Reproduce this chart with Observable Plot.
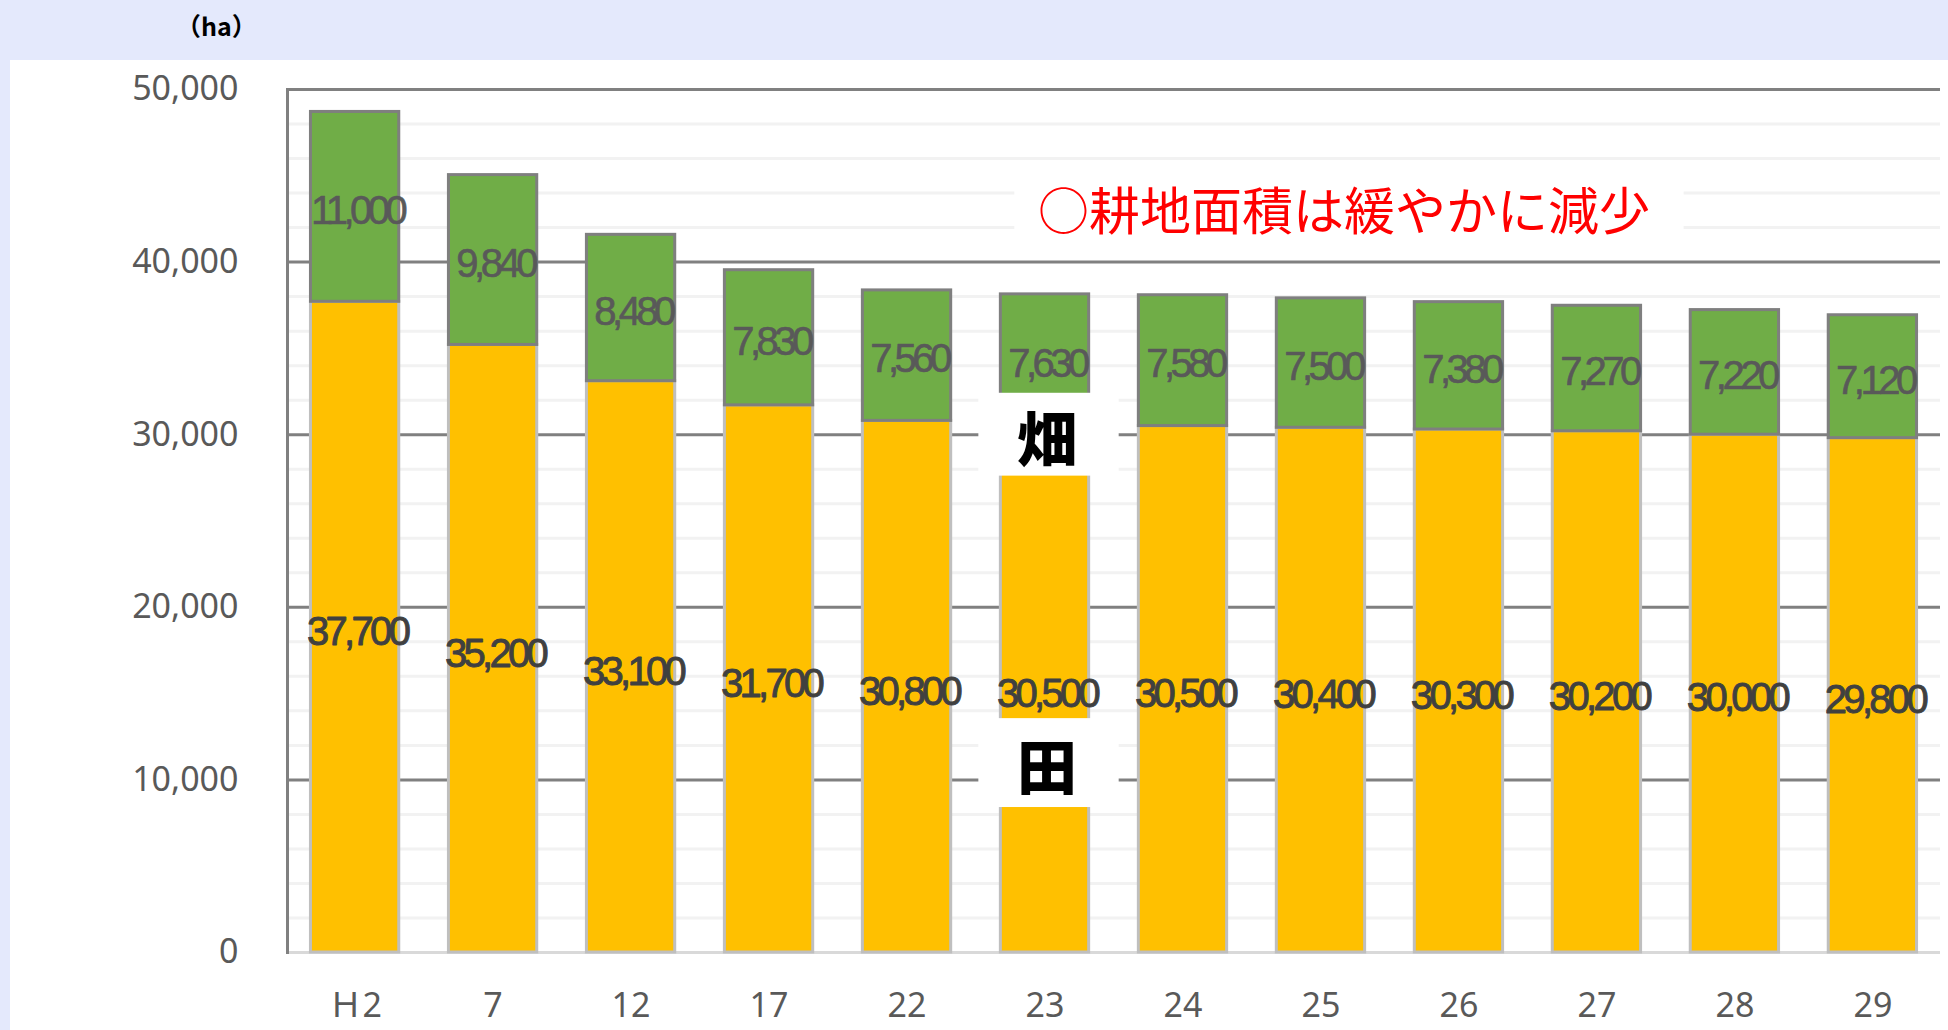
<!DOCTYPE html>
<html><head><meta charset="utf-8">
<script src="https://cdn.jsdelivr.net/npm/d3@7"></script>
<script src="https://cdn.jsdelivr.net/npm/@observablehq/plot@0.6"></script>
<style>
html,body{margin:0;padding:0;background:#E4E9FC;width:1948px;height:1030px;overflow:hidden;}
#unit{position:absolute;left:176px;top:7px;font-family:"Noto Sans CJK JP";font-weight:700;font-size:25px;color:#000;line-height:36px;}
#panel{position:absolute;left:10px;top:60px;width:1938px;height:970px;background:#fff;}
#panel svg{display:block;}
</style></head><body>
<div id="unit">（ha）</div>
<div id="panel"></div>
<script>
// ---- data ----
const years  = ["Ｈ2","7","12","17","22","23","24","25","26","27","28","29"];
const paddy  = [37700,35200,33100,31700,30800,30500,30500,30400,30300,30200,30000,29800]; // 田
const upland = [11000,9840,8480,7830,7560,7630,7580,7500,7380,7270,7220,7120];            // 畑
const majorTicks = [0,10000,20000,30000,40000,50000];
const minorTicks = [2000,4000,6000,8000,12000,14000,16000,18000,22000,24000,26000,28000,32000,34000,36000,38000,42000,44000,46000,48000];
const titleText = "○耕地面積は緩やかに減少";
const seriesNames = ["畑","田"];

const rows = years.map((year, i) => ({year, paddy: paddy[i], upland: upland[i]}));
const fmt = d3.format(",");

// annotation anchors (in data units)
const notes = [
  {label: seriesNames[0], x: "23", y1: 27600, y2: 32400},
  {label: seriesNames[1], x: "23", y1: 8400,  y2: 13550}
];
const title = [{text: titleText, x: "25", y1: 40400, y2: 45000, y: 42800}];

const chart = Plot.plot({
  width: 1938,
  height: 970,
  marginLeft: 277,
  marginRight: 8,
  marginTop: 29,
  marginBottom: 78,
  style: {background: "transparent", overflow: "visible"},
  x: {domain: years, paddingInner: 0.36, paddingOuter: 0.17, round: false, label: null},
  y: {domain: [0, 50000], label: null},
  marks: [
    Plot.ruleY(minorTicks, {stroke: "#F2F2F2", strokeWidth: 3}),
    Plot.ruleY(majorTicks.filter(d => d > 0), {stroke: "#808080", strokeWidth: 3}),
    Plot.ruleY([0], {stroke: "#D9D9D9", strokeWidth: 3}),
    Plot.frame({anchor: "left", stroke: "#808080", strokeWidth: 3}),
    Plot.axisY({ticks: majorTicks, tickSize: 0, tickPadding: 49, tickFormat: fmt,
      fontSize: 34, fontFamily: "Noto Sans", fill: "#595959"}),
    Plot.axisX({tickSize: 0, tickPadding: 40, fontSize: 34,
      fontFamily: "Noto Sans, Noto Sans CJK JP", fill: "#595959"}),
    // bars
    Plot.barY(rows, {x: "year", y1: 0, y2: "paddy", fill: "#FFC000", stroke: "#BFBFBF", strokeWidth: 3}),
    Plot.barY(rows, {x: "year", y1: "paddy", y2: d => d.paddy + d.upland, fill: "#70AD47", stroke: "#7F7F7F", strokeWidth: 3}),
    // value labels
    Plot.text(rows, {x: "year", y: d => d.paddy / 2, text: d => fmt(d.paddy), dy: 5, dx: 2,
      fill: "#404040", stroke: "#404040", strokeWidth: 0.9, fontSize: 40, fontFamily: "Liberation Sans"}),
    Plot.text(rows, {x: "year", y: d => d.paddy + d.upland / 2, text: d => fmt(d.upland), dy: 4, dx: 2,
      fill: "#595959", stroke: "#595959", strokeWidth: 0.6, fontSize: 40, fontFamily: "Liberation Sans"}),
    // series annotation boxes
    Plot.barY(notes, {x: "x", y1: "y1", y2: "y2", fill: "white", insetLeft: -22, insetRight: -30}),
    Plot.text(notes, {x: "x", y: d => (d.y1 + d.y2) / 2, text: "label", dx: 2, dy: 8,
      fill: "#000", fontSize: 60, fontWeight: 900, fontFamily: "Noto Sans CJK JP"}),
    // title callout
    Plot.barY(title, {x: "x", y1: "y1", y2: "y2", fill: "white", insetLeft: -262, insetRight: -319}),
    Plot.text(title, {x: "x", y: "y", text: "text", dx: 23, fill: "#FF0000", fontSize: 51,
      fontFamily: "Noto Sans CJK JP", fontWeight: 400})
  ]
});

chart.querySelectorAll('g[stroke="#404040"] text').forEach(t => { t.style.letterSpacing = "-3.7px"; });
chart.querySelectorAll('g[stroke="#595959"] text').forEach(t => { t.style.letterSpacing = "-4.5px"; });
document.getElementById("panel").appendChild(chart);
</script>
</body></html>
